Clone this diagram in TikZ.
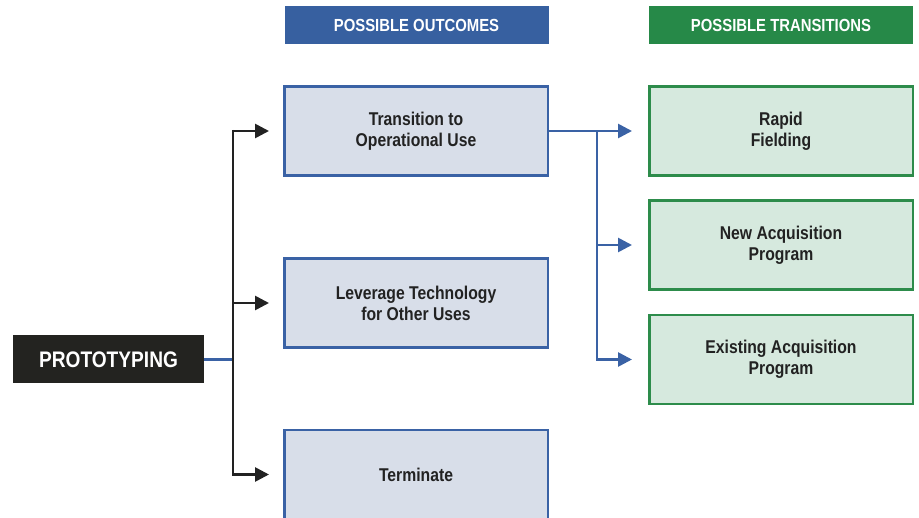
\documentclass[tikz,border=0pt]{standalone}
\usepackage{fontspec}
\newfontfamily\diagfont[FakeStretch=0.85]{Liberation Sans}
\usetikzlibrary{arrows.meta}
\definecolor{hdrblue}{RGB}{55,96,160}
\definecolor{hdrgreen}{RGB}{38,137,72}
\definecolor{boxblue}{RGB}{58,98,165}
\definecolor{fillblue}{RGB}{216,222,233}
\definecolor{boxgreen}{RGB}{45,140,75}
\definecolor{fillgreen}{RGB}{214,233,222}
\definecolor{darkbox}{RGB}{35,35,32}
\definecolor{textdark}{RGB}{34,34,34}

\begin{document}
\begin{tikzpicture}
[x=1pt, y=-1pt,
outcome/.style ={rectangle, draw=boxblue, line width=2.5pt, fill=fillblue,
text=textdark, align=center, minimum width=263.5pt, minimum height=89pt,
font=\diagfont\bfseries\fontsize{18.5}{21}\selectfont},
transit/.style ={outcome, draw=boxgreen, fill=fillgreen},
header/.style ={rectangle, text=white, minimum width=264pt, minimum height=38pt,
font=\diagfont\bfseries\fontsize{17.5}{20}\selectfont},
blkarrow/.style ={draw=textdark, line width=2.7pt, -{Triangle[length=14pt,width=14pt]}},
bluarrow/.style ={draw=boxblue, line width=2.7pt, -{Triangle[length=14pt,width=14pt]}}]

\useasboundingbox (0,0) rectangle (919,518);

% headers
\node (hdrout) [header, fill=hdrblue] at (416.5,25) {POSSIBLE OUTCOMES};
\node (hdrtr) [header, fill=hdrgreen] at (781,25) {POSSIBLE TRANSITIONS};

% start
\node (proto) [rectangle, fill=darkbox, text=white, minimum width=191pt,
  minimum height=48pt, font=\diagfont\bfseries\fontsize{22.5}{26}\selectfont]
  at (108.5,359.5) {PROTOTYPING};

% outcomes
\node (trans) [outcome] at (416,131) {Transition to\\Operational Use};
\node (lever) [outcome] at (416,303) {Leverage Technology\\for Other Uses};
\node (term) [outcome] at (416,474.5) {Terminate};

% transitions
\node (rapid) [transit] at (781,131) {Rapid\\Fielding};
\node (newacq) [transit] at (781,245) {New Acquisition\\Program};
\node (exacq) [transit] at (781,359.5) {Existing Acquisition\\Program};

\coordinate (split) at (233,359.5);
\coordinate (fork) at (597,131);

\draw[draw=boxblue, line width=2.7pt] (proto) -- (split);
\draw[draw=textdark, line width=2.7pt] (233,130) -- (233,474.5);
\draw[blkarrow, shorten >=14pt] (split) |- (trans);
\draw[blkarrow, shorten >=14pt] (split) |- (lever);
\draw[blkarrow, shorten >=14pt] (split) |- (term);

\draw[bluarrow, shorten >=16pt] (trans) -- (rapid);
\draw[bluarrow, shorten >=16pt] (fork) |- (newacq);
\draw[bluarrow, shorten >=16pt] (fork) |- (exacq);
\end{tikzpicture}
\end{document}
